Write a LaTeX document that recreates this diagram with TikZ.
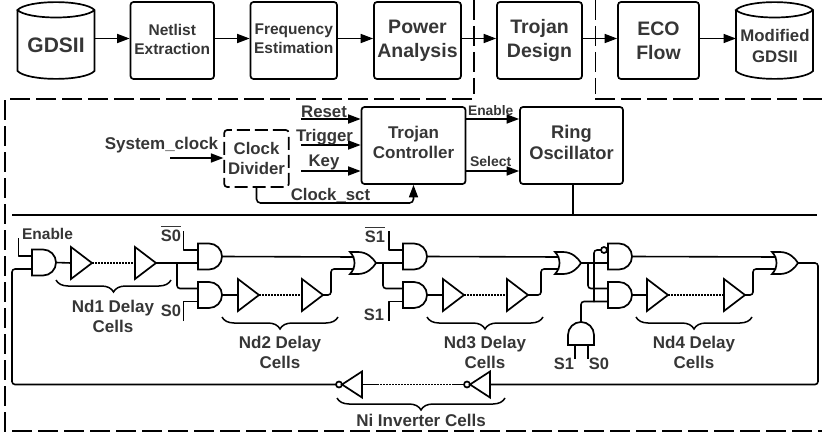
\documentclass[tikz,border=0pt]{standalone}
\usepackage{fontspec}
\setmainfont{Liberation Sans}
\usetikzlibrary{arrows.meta,decorations.pathreplacing}
\definecolor{ink}{HTML}{363636}
\newcommand{\fs}[2]{\bfseries\fontsize{#1}{#2}\selectfont}
\newcommand{\ovl}[1]{\setbox0\hbox{#1}\rlap{\rule[14.5pt]{\wd0}{1.2pt}}\box0}
\tikzset{
  wire/.style={line width=1.6pt,line join=round,rounded corners=3pt},
  arrowline/.style={line width=1.6pt,-{Triangle[length=12.5pt,width=9pt]}},
  gate/.style={line width=1.7pt,line join=miter},
  dotline/.style={line width=1.5pt,dash pattern=on 1.5pt off 1.5pt},
  framedash/.style={line width=1.5pt,dash pattern=on 20pt off 6pt},
  boxn/.style={draw=black,line width=1.7pt,rounded corners=3pt,inner sep=0pt},
  txt/.style={text=ink,align=center,inner sep=0pt},
  lbl/.style={txt,font=\fs{17}{20}},
  mybrace/.style={line width=1.5pt,decorate,decoration={brace,mirror,amplitude=#1}},
  mybrace/.default=12pt
}
\newcommand{\andg}[3]{%
  \draw[gate] (#2+11,#3-13) arc[start angle=90,end angle=-90,radius=13pt] -- (#2,#3+13) -- (#2,#3-13) -- cycle;
  \coordinate (#1a) at (#2,#3-6.5);
  \coordinate (#1b) at (#2,#3+6.5);
  \coordinate (#1o) at (#2+24,#3);}
\newcommand{\org}[3]{%
  \draw[gate] (#2,#3-11) -- (#2+8,#3-11) .. controls (#2+17,#3-11) and (#2+23,#3-5) .. (#2+26,#3)
     .. controls (#2+23,#3+5) and (#2+17,#3+11) .. (#2+8,#3+11) -- (#2,#3+11)
     .. controls (#2+6,#3+5) and (#2+6,#3-5) .. (#2,#3-11) -- cycle;
  \coordinate (#1a) at (#2+4,#3-6);
  \coordinate (#1b) at (#2+4,#3+6);
  \coordinate (#1o) at (#2+26,#3);}
\newcommand{\bufg}[3]{%
  \draw[gate] (#2,#3-16) -- (#2+21,#3) -- (#2,#3+16) -- cycle;
  \coordinate (#1i) at (#2,#3);
  \coordinate (#1o) at (#2+21,#3);}
\newcommand{\invg}[3]{%
  \draw[gate] (#2,#3-13) -- (#2-20,#3) -- (#2,#3+13) -- cycle;
  \draw[gate] (#2-23,#3) circle[radius=3pt];
  \coordinate (#1i) at (#2,#3);
  \coordinate (#1o) at (#2-26,#3);}
\newcommand{\cyl}[5]{% name, left, right, top, bottom
  \coordinate (#1w) at (#2,38.5);
  \coordinate (#1e) at (#3,38.5);
  \draw[gate] (#2,#4+8) -- (#2,#5-8)
    .. controls (#2+10,#5+2.5) and (#3-10,#5+2.5) .. (#3,#5-8) -- (#3,#4+8)
    .. controls (#3-10,#4-2.5) and (#2+10,#4-2.5) .. (#2,#4+8)
    .. controls (#2+10,#4+18) and (#3-10,#4+18) .. (#3,#4+8);}
\begin{document}
\begin{tikzpicture}[x=1pt,y=-1pt]
\useasboundingbox (0,0) rectangle (822,436);
% top flow
\cyl{gds}{17.5}{94.5}{2}{79}
\node[txt,font=\fs{21}{24}] (gdst) at (56,45) {GDSII};
\cyl{mod}{736}{813}{2}{79}
\node[txt,font=\fs{16.8}{21}] (modt) at (775,45.5) {Modified\\GDSII};
\foreach \n/\a/\b/\t/\f/\l/\s in {
  net/130.5/214/{Netlist\\Extraction}/15.5/19/1.5pt,
  fre/250.5/337/{Frequency\\Estimation}/15.5/19/1.5pt,
  pow/374/461/{Power\\Analysis}/19.5/24/0pt,
  tro/497/582/{Trojan\\Design}/19.5/24/0pt,
  eco/618/699/{ECO\\Flow}/19.5/24/0pt}{
  \pgfmathsetmacro\w{\b-\a}
  \pgfmathsetmacro\c{(\a+\b)/2}
  \node[boxn,minimum width=\w pt,minimum height=77pt,
    label={[txt,font=\fs{\f}{\l},yshift=\s]center:\t}] (\n) at (\c,40.5) {};
}
\draw[arrowline] (gdse) -- ([yshift=2pt]net.west);
\draw[arrowline] ([yshift=2pt]net.east) -- ([yshift=2pt]fre.west);
\draw[arrowline] ([yshift=2pt]fre.east) -- ([yshift=2pt]pow.west);
\draw[arrowline] ([yshift=2pt]pow.east) -- ([yshift=2pt]tro.west);
\draw[arrowline] ([yshift=2pt]tro.east) -- ([yshift=2pt]eco.west);
\draw[arrowline] ([yshift=2pt]eco.east) -- (modw);
% frame
\draw[framedash] (474,0) -- (474,94);
\draw[framedash] (595.5,0) -- (595.5,94);
\draw[framedash] (472,99) -- (5,99) -- (5,431) -- (822,431);
\draw[framedash] (595,99) -- (822,99);
% controller row
\node[boxn,dash pattern=on 13pt off 5pt,minimum width=64.5pt,minimum height=57pt,font=\fs{16.8}{20.5},text=ink,align=center] (div) at (256.5,158.5) {Clock\\Divider};
\node[boxn,minimum width=104pt,minimum height=77pt,
  label={[txt,font=\fs{17}{20.5},yshift=3pt]center:Trojan\\Controller}] (ctl) at (413.5,145.5) {};
\node[boxn,minimum width=103pt,minimum height=77pt,
  label={[txt,font=\fs{18.3}{21.5},yshift=3pt]center:Ring\\Oscillator}] (ring) at (571.5,145.5) {};
\coordinate (sysin) at (170,158);
\coordinate (rin) at (301,119);
\coordinate (tin) at (301,145);
\coordinate (kin) at (301,171);
\draw[arrowline] (sysin) -- (sysin -| div.west);
\draw[arrowline] (rin) -- (rin -| ctl.west);
\draw[arrowline] (tin) -- (tin -| ctl.west);
\draw[arrowline] (kin) -- (kin -| ctl.west);
\coordinate (en) at (ctl.east |- rin);
\coordinate (sel) at (ctl.east |- kin);
\draw[arrowline] (en) -- (en -| ring.west);
\draw[arrowline] (sel) -- (sel -| ring.west);
\coordinate (sctb) at (256.5,203);
\coordinate (sctc) at (413.5,203);
\draw[line width=1.6pt,rounded corners=4pt,-{Triangle[length=12.5pt,width=9pt]}] (div.south) -- (sctb) -- (sctc) -- (ctl.south);
\node[lbl] (sysl) at (161.5,145) {System\_clock};
\node[lbl,font=\fs{16.8}{20}] (rsl) at (324,112) {Reset};
\node[lbl,font=\fs{16.8}{20}] (trl) at (324.5,137) {Trigger};
\node[lbl,font=\fs{16.8}{20}] (kyl) at (324,162) {Key};
\node[lbl,font=\fs{16.8}{20}] (sctl) at (330.5,195) {Clock\_sct};
\node[txt,font=\fs{13.8}{16}] (enl) at (490.7,111) {Enable};
\node[txt,font=\fs{14}{16}] (sll) at (490.7,161) {Select};
\coordinate (sep) at (572.8,215);
\draw[line width=1.6pt] (ring.south -| sep) -- (sep);
\draw[line width=1.8pt] (12,215) -- (817,215);
% gates
\andg{A}{32}{262.5}
\bufg{B}{71}{263}
\bufg{C}{135}{263}
\andg{D}{198}{256.5}
\andg{E}{198}{295}
\bufg{F}{238}{295}
\bufg{G}{302}{295}
\org{H}{350}{263}
\andg{I}{403}{256.5}
\andg{J}{403}{295}
\bufg{K}{443}{295}
\bufg{L}{507}{295}
\org{M}{555}{263}
\andg{N}{608}{256.5}
\andg{O}{608}{295}
\bufg{P}{647}{295}
\bufg{Q}{724}{295}
\org{R}{772}{263}
\invg{S}{362}{384.5}
\invg{T}{490}{384.5}
% small AND (points up)
\draw[gate] (568,345) -- (568,335) arc[start angle=180,end angle=0,radius=13pt] -- (594,345) -- cycle;
\coordinate (Uo) at (581,322);
\coordinate (Ua) at (575,345);
\coordinate (Ub) at (588,345);
\coordinate (Ual) at (575,359);
\coordinate (Ubl) at (588,359);
\draw[wire] (Ua) -- (Ual);
\draw[wire] (Ub) -- (Ubl);
% signal stubs
\coordinate (en1) at (18.5,238);
\draw[wire,rounded corners=0pt] (en1) -- (en1 |- Aa) -- (Aa);
\coordinate (s0b) at (183.5,231);
\coordinate (s0) at (183.5,321);
\draw[wire,rounded corners=0pt] (s0b) -- (s0b |- Da) -- (Da);
\draw[wire,rounded corners=0pt] (s0) -- (s0 |- Eb) -- (Eb);
\coordinate (s1b) at (389,231);
\coordinate (s1) at (389,321);
\draw[wire,rounded corners=0pt] (s1b) -- (s1b |- Ia) -- (Ia);
\draw[wire,rounded corners=0pt] (s1) -- (s1 |- Jb) -- (Jb);
% delay chains
\draw[wire] (Ao) -- (Bi);
\draw[dotline] (Bo) -- (Ci);
\draw[wire] (Co) -- (Db);
\coordinate (j1) at (177,263);
\draw[wire] (j1) -- (j1 |- Ea) -- (Ea);
\draw[wire] (Eo) -- (Fi);
\draw[dotline] (Fo) -- (Gi);
\draw[wire] (Do) -- (Ha);
\coordinate (j2) at (331,295);
\draw[wire] (Go) -- (j2) -- (j2 |- Hb) -- (Hb);
\draw[wire] (Ho) -- (Ib);
\coordinate (j3) at (383,263);
\draw[wire] (j3) -- (j3 |- Ja) -- (Ja);
\draw[wire] (Io) -- (Ma);
\draw[wire] (Jo) -- (Ki);
\draw[dotline] (Ko) -- (Li);
\coordinate (j4) at (541,295);
\draw[wire] (Lo) -- (j4) -- (j4 |- Mb) -- (Mb);
\draw[wire] (Mo) -- (Nb);
\coordinate (j5) at (588,263);
\draw[wire] (j5) -- (j5 |- Oa) -- (Oa);
\coordinate (j6) at (594,302);
\coordinate (j7) at (594,250);
\coordinate (nbub) at (604,250);
\draw[gate] (nbub) circle[radius=3pt];
\draw[wire] (Uo) -- (Uo |- Ob) -- (Ob);
\draw[wire] (j6) -- (j7) -- (601,250);
\draw[wire] (Oo) -- (Pi);
\draw[dotline] (Po) -- (Qi);
\coordinate (j8) at (753,295);
\draw[wire] (Qo) -- (j8) -- (j8 |- Rb) -- (Rb);
\draw[wire] (No) -- (Ra);
\coordinate (c1) at (818,263);
\coordinate (c2) at (818,384.5);
\coordinate (c3) at (12,384.5);
\draw[wire] (Ro) -- (c1) -- (c2) -- (Ti);
\coordinate (d1) at (377,384.5);
\coordinate (d2) at (453,384.5);
\draw[dotline] (d1) -- (d2);
\draw[wire] (d2) -- (To);
\draw[wire] (Si) -- (d1);
\draw[wire] (So) -- (c3) -- (c3 |- Ab) -- (Ab);
% braces
\draw[mybrace] (56,280) -- (171,280);
\draw[mybrace] (222,317) -- (338,317);
\draw[mybrace] (427,317) -- (543,317);
\draw[mybrace] (636,317) -- (752,317);
\draw[mybrace=12pt] (337,398) -- (505,398);
% labels
\node[txt,font=\fs{15.5}{18}] (enb) at (47.5,234) {Enable};
\node[txt,font=\fs{16.5}{19}] (s0bl) at (171,234) {\ovl{S0}};
\node[txt,font=\fs{16.5}{19}] (s0l) at (171,311) {S0};
\node[txt,font=\fs{16.5}{19}] (s1bl) at (375,235) {\ovl{S1}};
\node[txt,font=\fs{16.5}{19}] (s1l) at (374,315) {S1};
\node[txt,font=\fs{16.5}{19}] (s1m) at (564,364) {S1};
\node[txt,font=\fs{16.5}{19}] (s0m) at (599,364) {S0};
\node[lbl] (nd1) at (113,316) {Nd1 Delay\\Cells};
\node[lbl] (nd2) at (280,352) {Nd2 Delay\\Cells};
\node[lbl] (nd3) at (485,352) {Nd3 Delay\\Cells};
\node[lbl] (nd4) at (694,352.5) {Nd4 Delay\\Cells};
\node[lbl] (ni) at (421,420.5) {Ni Inverter Cells};
\end{tikzpicture}
\end{document}
